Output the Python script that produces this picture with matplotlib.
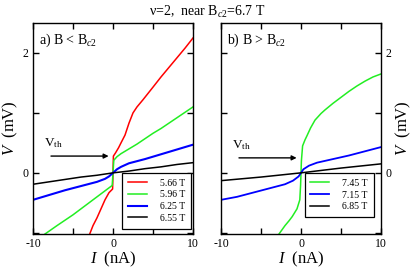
import matplotlib
matplotlib.use('Agg')
import matplotlib.pyplot as plt
from matplotlib.ticker import FixedLocator, FuncFormatter

plt.rcParams['font.family'] = ['Liberation Serif', 'DejaVu Serif']
plt.rcParams['mathtext.fontset'] = 'custom'
plt.rcParams['mathtext.rm'] = 'Liberation Serif'
plt.rcParams['mathtext.it'] = 'Liberation Serif:italic'

# panel a) B < Bc2
i_566 = [-3.0, -2.5, -2.0, -1.5, -1.0, -0.5, -0.2, -0.05, 0.0, 0.05, 0.3, 0.7, 1.0, 1.5,
         2.0, 2.5, 3.0, 3.75, 5.0, 6.0, 7.0, 8.0, 9.0, 10.0]
v_566 = [-1.05, -0.88, -0.75, -0.6, -0.45, -0.33, -0.29, -0.27, 0.0, 0.28, 0.33, 0.42, 0.5, 0.63,
         0.83, 1.0, 1.1, 1.22, 1.43, 1.6, 1.76, 1.92, 2.08, 2.25]

i_596 = [-8.5, -7, -6, -5, -4, -3, -2, -1, -0.5, -0.1, 0, 0.1, 0.5, 1, 2, 3, 4, 5, 6, 7, 8, 9, 10]
v_596 = [-1.02, -0.88, -0.79, -0.7, -0.6, -0.5, -0.4, -0.3, -0.25, -0.21, 0, 0.21, 0.27, 0.32,
         0.4, 0.48, 0.57, 0.66, 0.74, 0.83, 0.92, 1.01, 1.1]

i_625 = [-10, -8, -6, -4, -2, -1, -0.5, 0, 0.5, 1, 2, 4, 6, 8, 10]
v_625 = [-0.45, -0.37, -0.29, -0.22, -0.15, -0.1, -0.06, 0, 0.06, 0.1, 0.16, 0.23, 0.31, 0.39, 0.47]

i_655 = [-10, -8, -6, -4, -2, 0, 2, 4, 6, 8, 10]
v_655 = [-0.19, -0.15, -0.11, -0.07, -0.04, 0, 0.03, 0.07, 0.1, 0.14, 0.17]

# panel b) B > Bc2
i_745 = [-2.75, -2, -1.5, -1.1, -0.5, -0.15, -0.05, 0, 0.05, 0.2, 0.5, 0.75, 1.2, 1.75,
         2.5, 3, 4, 4.6, 6, 7, 8, 9, 10]
v_745 = [-1.02, -0.88, -0.8, -0.73, -0.6, -0.45, -0.2, 0, 0.2, 0.45, 0.55, 0.62, 0.75, 0.88,
         0.99, 1.05, 1.16, 1.22, 1.36, 1.45, 1.53, 1.6, 1.65]

i_715 = [-10, -8, -6, -4, -2, -1, -0.3, 0, 0.3, 1, 2, 4, 6, 8, 10]
v_715 = [-0.45, -0.4, -0.33, -0.26, -0.19, -0.13, -0.06, 0, 0.06, 0.12, 0.17, 0.23, 0.29, 0.36, 0.43]

i_685 = [-10, -5, 0, 5, 10]
v_685 = [-0.13, -0.07, 0, 0.08, 0.15]

left_series = [(i_566, v_566, 'red', '5.66 T'), (i_596, v_596, '#22ee22', '5.96 T'),
               (i_625, v_625, 'blue', '6.25 T'), (i_655, v_655, 'black', '6.55 T')]
right_series = [(i_745, v_745, '#22ee22', '7.45 T'), (i_715, v_715, 'blue', '7.15 T'),
                (i_685, v_685, 'black', '6.85 T')]

x_ticks = [-10, -5, 0, 5, 10]
x_labels = {-10: '-10', 0: '0', 10: '10'}
y_ticks = [-1, 0, 1, 2]
y_labels = {0: '0', 2: '2'}


def style_axes(ax, right=False):
    ax.set_xlim(-10, 10)
    ax.set_ylim(-1.02, 2.5)
    ax.xaxis.set_major_locator(FixedLocator(x_ticks))
    ax.yaxis.set_major_locator(FixedLocator(y_ticks))
    ax.xaxis.set_major_formatter(FuncFormatter(lambda v, p: x_labels.get(int(round(v)), '')))
    ax.yaxis.set_major_formatter(FuncFormatter(lambda v, p: y_labels.get(int(round(v)), '')))
    ax.tick_params(direction='in', top=True, right=True, left=True, length=4, width=1,
                   labelsize=8.5, pad=3)
    if right:
        ax.yaxis.tick_right()
        ax.tick_params(left=True)
        ax.yaxis.set_label_position('right')
    for s in ax.spines.values():
        s.set_linewidth(1)
    ax.set_xlabel('$I$  (nA)', fontsize=12, labelpad=0)
    ax.set_ylabel('$V$  (mV)', fontsize=12, labelpad=2)


fig = plt.figure(figsize=(4.15, 2.71), dpi=100)
ax1 = fig.add_axes([33 / 415, 37 / 271, 160 / 415, 211 / 271])
ax2 = fig.add_axes([221 / 415, 37 / 271, 160 / 415, 211 / 271])

for i, v, c, lab in left_series:
    ax1.plot(i, v, color=c, lw=1.1 if c != 'blue' else 1.5, label=lab)
for i, v, c, lab in right_series:
    ax2.plot(i, v, color=c, lw=1.1 if c != 'blue' else 1.3, label=lab)

style_axes(ax1)
style_axes(ax2, right=True)

leg_kw = dict(loc='lower right', fontsize=7, fancybox=False, edgecolor='black',
              framealpha=1, handlelength=1.9, handletextpad=1.4, borderpad=0.6,
              labelspacing=0.28, borderaxespad=0)
l1 = ax1.legend(bbox_to_anchor=(0.99, 0.025), **leg_kw)
l2 = ax2.legend(bbox_to_anchor=(0.955, 0.08), **leg_kw)
for l in (l1, l2):
    l.get_frame().set_linewidth(0.9)

ax1.text(0.04, 0.96, 'a) B < B$_{c2}$', transform=ax1.transAxes, fontsize=10, va='top')
ax2.text(0.04, 0.96, 'b) B > B$_{c2}$', transform=ax2.transAxes, fontsize=10, va='top')

for ax, y0 in ((ax1, 0.28), (ax2, 0.25)):
    ax.annotate('', xy=(-0.2, y0), xytext=(-8.1, y0),
                arrowprops=dict(arrowstyle='-|>', color='black', lw=1, mutation_scale=7))
    ax.text(-8.6, y0 + 0.1, 'V$_{\\rm th}$', fontsize=9.5, va='bottom')

fig.text(0.5, 0.985, 'ν=2,  near B$_{c2}$=6.7 T', ha='center', va='top', fontsize=10)

fig.savefig('out.png', dpi=100)
